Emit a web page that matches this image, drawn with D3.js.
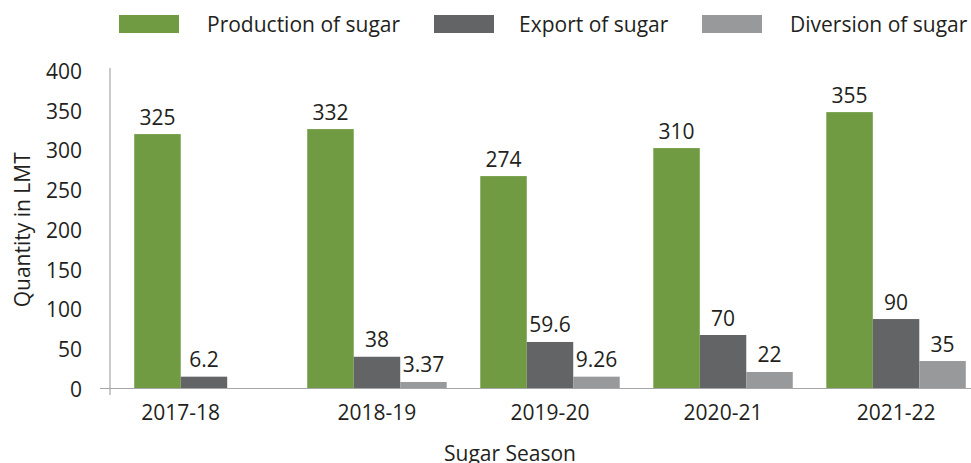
<!DOCTYPE html>
<html>
<head>
<meta charset="utf-8">
<script src="https://cdn.jsdelivr.net/npm/d3@7"></script>
<style>
  body { margin: 0; background: #fff; }
  svg text { font-family: "Open Sans", sans-serif; fill: #231f20; }
</style>
</head>
<body>
<div class="graph"></div>
<script>
const w = 971;
const h = 463;

const seasons = ["2017-18", "2018-19", "2019-20", "2020-21", "2021-22"];
const seriesNames = ["Production of sugar", "Export of sugar", "Diversion of sugar"];
const colors = ["#709b43", "#636466", "#98999b"];

// bar heights as drawn in the picture
const production = [320.5, 326.8, 267.6, 302.9, 348.2];
const exportSugar = [14.9, 40, 58.6, 67.4, 87.5];
const diversion = [null, 8.2, 14.9, 20.8, 34.6];

// value labels as printed above the bars
const productionLabels = ["325", "332", "274", "310", "355"];
const exportLabels = ["6.2", "38", "59.6", "70", "90"];
const diversionLabels = ["", "3.37", "9.26", "22", "35"];

const yTicks = [0, 50, 100, 150, 200, 250, 300, 350, 400];

const values = [production, exportSugar, diversion];
const labels = [productionLabels, exportLabels, diversionLabels];

const canvas = d3.select(".graph")
  .append("svg")
  .attr("width", w)
  .attr("height", h);

const x0 = d3.scaleBand()
  .domain(seasons)
  .range([110, 990])
  .paddingInner(0.194)
  .paddingOuter(0.14);

const x1 = d3.scaleBand()
  .domain(d3.range(seriesNames.length))
  .range([0, x0.bandwidth()]);

const y = d3.scaleLinear()
  .domain([0, 400])
  .range([388.5, 71]);

// y axis
const yAxis = d3.axisLeft(y)
  .tickValues(yTicks)
  .tickSize(0)
  .tickPadding(28);

const yg = canvas.append("g")
  .attr("transform", "translate(110,0)")
  .call(yAxis);
yg.select(".domain").remove();
yg.selectAll("text")
  .style("font-size", "21px")
  .attr("dy", "0.36em")
  .style("font-family", "'Open Sans', sans-serif")
  .attr("fill", "#231f20");

// bars
const rows = [];
seasons.forEach((s, i) => {
  values.forEach((vals, k) => {
    if (vals[i] != null) rows.push({season: s, k: k, v: vals[i], label: labels[k][i]});
  });
});

const grp = canvas.append("g");
grp.selectAll("rect")
  .data(rows)
  .enter().append("rect")
  .attr("x", d => x0(d.season) + x1(d.k))
  .attr("y", d => y(d.v))
  .attr("width", x1.bandwidth())
  .attr("height", d => y(0) - y(d.v))
  .attr("fill", d => colors[d.k]);

grp.selectAll("text")
  .data(rows)
  .enter().append("text")
  .attr("x", d => x0(d.season) + x1(d.k) + x1.bandwidth() / 2)
  .attr("y", d => y(d.v) - 9.5)
  .attr("text-anchor", "middle")
  .style("font-size", "21px")
  .text(d => d.label);

// axis lines
canvas.append("line")
  .attr("x1", 110).attr("x2", 110)
  .attr("y1", 68).attr("y2", 395)
  .attr("stroke", "#a6a6a6").attr("stroke-width", 1.2);
canvas.append("line")
  .attr("x1", 100).attr("x2", w)
  .attr("y1", y(0)).attr("y2", y(0))
  .attr("stroke", "#a6a6a6").attr("stroke-width", 1.2);

// x labels, centred on the bars present in each group
canvas.append("g").selectAll("text")
  .data(seasons)
  .enter().append("text")
  .attr("x", (s, i) => {
    const ks = values.map((v, k) => v[i] != null ? k : -1).filter(k => k >= 0);
    const left = x0(s) + x1(ks[0]);
    const right = x0(s) + x1(ks[ks.length - 1]) + x1.bandwidth();
    return (left + right) / 2;
  })
  .attr("y", 420)
  .attr("text-anchor", "middle")
  .style("font-size", "21px")
  .text(d => d);

// axis titles
canvas.append("text")
  .attr("x", 510).attr("y", 461)
  .attr("text-anchor", "middle")
  .style("font-size", "21px")
  .text("Sugar Season");

canvas.append("text")
  .attr("transform", `translate(30, ${(y(0) + y(400)) / 2}) rotate(-90)`)
  .attr("text-anchor", "middle")
  .style("font-size", "21px")
  .text("Quantity in LMT");

// legend
const legendX = [119, 434, 702];
const legend = canvas.append("g").selectAll("g")
  .data(seriesNames)
  .enter().append("g")
  .attr("transform", (d, i) => `translate(${legendX[i]}, 15)`);
legend.append("rect")
  .attr("width", 60).attr("height", 18)
  .attr("fill", (d, i) => colors[i]);
legend.append("text")
  .attr("x", (d, i) => i === 0 ? 88 : i === 1 ? 85 : 88)
  .attr("y", 17.3)
  .style("font-size", "21px")
  .text(d => d);
</script>
</body>
</html>
